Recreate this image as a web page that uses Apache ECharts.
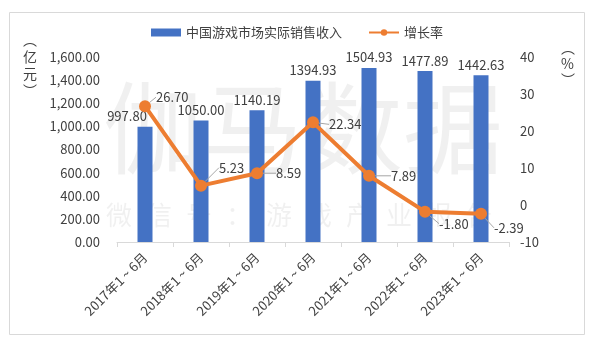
<!DOCTYPE html>
<html><head><meta charset="utf-8">
<script src="https://cdn.jsdelivr.net/npm/echarts@6/dist/echarts.min.js"></script>
<style>html,body{margin:0;padding:0;background:#fff}#c{width:594px;height:340px}</style>
</head><body><div id="c"></div>
<script>
const categories = ['2017年1 ~ 6月','2018年1 ~ 6月','2019年1 ~ 6月','2020年1 ~ 6月','2021年1 ~ 6月','2022年1 ~ 6月','2023年1 ~ 6月'];
const revenue = [997.80, 1050.00, 1140.19, 1394.93, 1504.93, 1477.89, 1442.63];
const growth = [26.70, 5.23, 8.59, 22.34, 7.89, -1.80, -2.39];
const leftTicks = [0, 1600, 200];
const rightTicks = [-10, 40, 10];

const labelShift = [[0,-9],[7,-18],[8,0],[5,2],[11,0],[3,12],[2,14]];
const font = '"Noto Sans CJK SC", "Microsoft YaHei", sans-serif';
const txt = '#404040';

const chart = echarts.init(document.getElementById('c'), null, {renderer:'canvas'});
const wm1 = '伽马数据'.split('');
const wm2 = '微信号：游戏产业报告'.split('');
chart.setOption({
  animation:false,
  textStyle:{fontFamily:font},
  legend:{
    top:21, left:'center', itemGap:26,
    textStyle:{fontSize:13,color:txt,fontFamily:font},
    data:[{name:'中国游戏市场实际销售收入',icon:'rect',itemWidth:27,itemHeight:7},{name:'增长率'}],
    itemWidth:30,itemHeight:8
  },
  grid:{left:117,right:85,top:57,bottom:98},
  xAxis:{
    type:'category', data:categories,
    axisLine:{lineStyle:{color:'#d9d9d9'}},
    axisTick:{show:true,length:5,lineStyle:{color:'#d9d9d9'}},
    axisLabel:{rotate:45,fontSize:13,color:txt,interval:0,margin:13,fontFamily:font}
  },
  yAxis:[
    {type:'value',min:leftTicks[0],max:leftTicks[1],interval:leftTicks[2],
     splitLine:{show:false},axisLine:{show:false},axisTick:{show:false},
     axisLabel:{fontSize:13,color:txt,margin:17,fontFamily:font,
       formatter:v=>v.toLocaleString('en-US',{minimumFractionDigits:2,maximumFractionDigits:2})}},
    {type:'value',min:rightTicks[0],max:rightTicks[1],interval:rightTicks[2],
     splitLine:{show:false},axisLine:{show:false},axisTick:{show:false},
     axisLabel:{fontSize:13,color:txt,margin:11,fontFamily:font}}
  ],
  graphic:[
    {type:'rect',left:7,top:10,shape:{width:575,height:322},style:{fill:'none',stroke:'#d9d9d9',lineWidth:1},z:-10},
    ...wm1.map((ch,i)=>({type:'text',left:103+i*100,top:78,style:{text:ch,fontSize:100,fill:'rgba(0,0,0,0.06)',fontFamily:font},z:-5})),
    ...wm2.map((ch,i)=>({type:'text',left:106+i*40,top:202,style:{text:ch,fontSize:26,fill:'rgba(0,0,0,0.06)',fontFamily:font},z:-5})),
    {type:'text',left:23,top:31,style:{text:'︵\n亿\n元\n︶',fontSize:14,lineHeight:17,fill:txt,align:'center',fontFamily:font}},
    {type:'text',left:561,top:40,style:{text:'︵\n%\n︶',fontSize:14,lineHeight:16,fill:txt,align:'center',fontFamily:font}}
  ],
  series:[
    {name:'中国游戏市场实际销售收入',type:'bar',data:revenue.map((v,i)=>i===0?{value:v,label:{offset:[-18,0]}}:v),
     barWidth:15,itemStyle:{color:'#4472C4'},
     label:{show:true,position:'top',distance:4,fontSize:13,color:txt,fontFamily:font,formatter:p=>p.value.toFixed(2)}},
    {name:'增长率',type:'line',yAxisIndex:1,data:growth,
     symbol:'circle',symbolSize:12,
     lineStyle:{color:'#ED7D31',width:4},itemStyle:{color:'#ED7D31'},
     label:{show:true,position:'right',distance:5,fontSize:13,color:txt,fontFamily:font,formatter:p=>p.value.toFixed(2)},
     labelLine:{show:true,lineStyle:{color:'#a6a6a6',width:1}},
     labelLayout:p=>({dx:labelShift[p.dataIndex][0],dy:labelShift[p.dataIndex][1]}),
     z:5}
  ]
});
</script></body></html>
